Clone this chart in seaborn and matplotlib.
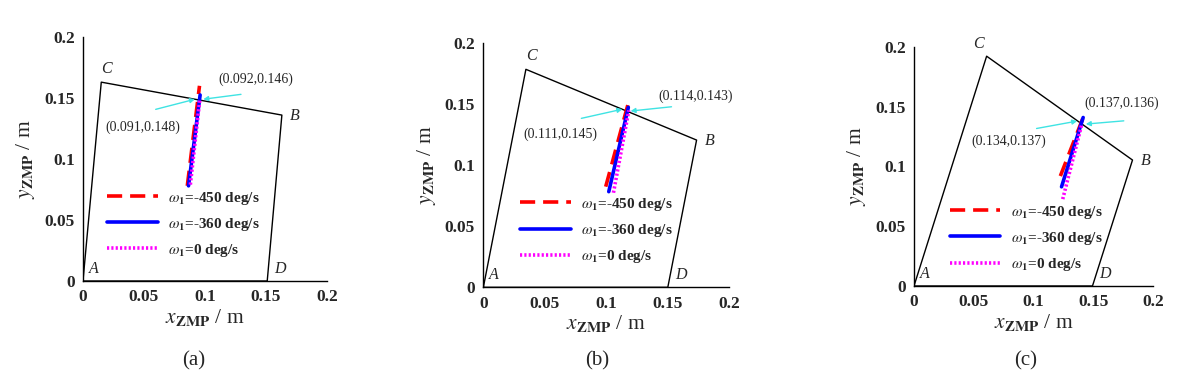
import numpy as np
import pandas as pd
import matplotlib
matplotlib.use('Agg')
import matplotlib.pyplot as plt
import seaborn as sns

sns.set_theme(style='white')
plt.rcParams['font.family'] = ['Liberation Serif', 'DejaVu Serif']
plt.rcParams['mathtext.fontset'] = 'stix'

# Support polygon vertices in order A, C, B, D, A for each case
poly_a_x = [0.0, 0.015, 0.163, 0.151, 0.0]
poly_a_y = [0.0, 0.163, 0.136, 0.0, 0.0]
poly_b_x = [0.0, 0.0346, 0.1734, 0.150, 0.0]
poly_b_y = [0.0, 0.1787, 0.1207, 0.0, 0.0]
poly_c_x = [0.0, 0.0608, 0.1829, 0.1494, 0.0]
poly_c_y = [0.0, 0.1923, 0.1054, 0.0, 0.0]

# ZMP trajectories (start, end) for w1 = -450, -360, 0 deg/s
zmp_a_450_x = [0.0855, 0.0955]
zmp_a_450_y = [0.078, 0.160]
zmp_a_360_x = [0.0865, 0.096]
zmp_a_360_y = [0.078, 0.1525]
zmp_a_0_x = [0.0880, 0.0958]
zmp_a_0_y = [0.079, 0.149]

zmp_b_450_x = [0.0995, 0.1187]
zmp_b_450_y = [0.0825, 0.154]
zmp_b_360_x = [0.102, 0.1179]
zmp_b_360_y = [0.0784, 0.1475]
zmp_b_0_x = [0.1058, 0.1183]
zmp_b_0_y = [0.0775, 0.145]

zmp_c_450_x = [0.1225, 0.1424]
zmp_c_450_y = [0.092, 0.143]
zmp_c_360_x = [0.1235, 0.1416]
zmp_c_360_y = [0.083, 0.141]
zmp_c_0_x = [0.1245, 0.1405]
zmp_c_0_y = [0.0727, 0.1355]

# crossing-point annotations: label, text position, arrow tail, arrow head
note_a_left = ['(0.091,0.148)', (0.049, 0.1257), (0.0596, 0.1407), (0.0918, 0.149)]
note_a_right = ['(0.092,0.146)', (0.111, 0.1656), (0.1295, 0.153), (0.0986, 0.149)]
note_b_left = ['(0.111,0.145)', (0.063, 0.1254), (0.0797, 0.1385), (0.113, 0.146)]
note_b_right = ['(0.114,0.143)', (0.142, 0.157), (0.153, 0.148), (0.1197, 0.1445)]
note_c_left = ['(0.134,0.137)', (0.0789, 0.1207), (0.1026, 0.1318), (0.1366, 0.138)]
note_c_right = ['(0.137,0.136)', (0.143, 0.1527), (0.1756, 0.1382), (0.1438, 0.1355)]

legend_labels = [r'$\omega_\mathbf{1}$=-450 deg/s',
                 r'$\omega_\mathbf{1}$=-360 deg/s',
                 r'$\omega_\mathbf{1}$=0 deg/s']
ticks = [0, 0.05, 0.1, 0.15, 0.2]
tick_labels = ['0', '0.05', '0.1', '0.15', '0.2']
captions = ['(a)', '(b)', '(c)']

panels = [
    dict(poly=(poly_a_x, poly_a_y),
         zmp=[(zmp_a_450_x, zmp_a_450_y), (zmp_a_360_x, zmp_a_360_y), (zmp_a_0_x, zmp_a_0_y)],
         notes=[note_a_left, note_a_right], c_off=(0, 4),
         rect=[0.0699, 0.2795, 0.2056, 0.6256], leg=(0.10, 0.375), cap_pos=(0.163, 0.075)),
    dict(poly=(poly_b_x, poly_b_y),
         zmp=[(zmp_b_450_x, zmp_b_450_y), (zmp_b_360_x, zmp_b_360_y), (zmp_b_0_x, zmp_b_0_y)],
         notes=[note_b_left, note_b_right], c_off=(0, 4),
         rect=[0.4072, 0.2633, 0.2072, 0.6256], leg=(0.15, 0.375), cap_pos=(0.503, 0.075)),
    dict(poly=(poly_c_x, poly_c_y),
         zmp=[(zmp_c_450_x, zmp_c_450_y), (zmp_c_360_x, zmp_c_360_y), (zmp_c_0_x, zmp_c_0_y)],
         notes=[note_c_left, note_c_right], c_off=(-10, 3),
         rect=[0.770, 0.2667, 0.2013, 0.6128], leg=(0.15, 0.345), cap_pos=(0.864, 0.075)),
]

styles = [dict(color='#ff0000', linestyle=(0, (4.2, 2.2))),
          dict(color='#0000ff', linestyle='-'),
          dict(color='#ff00ff', linestyle=(0, (0.6, 0.6)))]
cyan = '#3fe3e3'

fig = plt.figure(figsize=(11.87, 3.9), dpi=100)

for p, caption in zip(panels, captions):
    ax = fig.add_axes(p['rect'])
    px, py = p['poly']
    sns.lineplot(x=px, y=py, ax=ax, sort=False, estimator=None, color='black', lw=1.0)

    handles = []
    for (zx, zy), st in zip(p['zmp'], styles):
        sns.lineplot(x=zx, y=zy, ax=ax, sort=False, estimator=None, lw=2.6, **st)
        handles.append(ax.lines[-1])

    for label, tpos, tail, head in p['notes']:
        ax.annotate('', xy=head, xytext=tail,
                    arrowprops=dict(arrowstyle='-|>', color=cyan, lw=1.0,
                                    mutation_scale=7, shrinkA=0, shrinkB=0))
    left, right = p['notes']
    ax.text(left[1][0], left[1][1], left[0], ha='center', va='center', fontsize=10)
    ax.text(right[1][0], right[1][1], right[0], ha='left', va='center', fontsize=10)

    # vertex names
    names = ['A', 'C', 'B', 'D']
    offsets = [(4, 3), p['c_off'], (6, -1), (5, 3)]
    aligns = [('left', 'bottom'), ('left', 'bottom'), ('left', 'center'), ('left', 'bottom')]
    for name, vx, vy, off, (ha, va) in zip(names, px[:4], py[:4], offsets, aligns):
        ax.annotate(name, xy=(vx, vy), xytext=off, textcoords='offset points',
                    ha=ha, va=va, fontsize=11.5, fontstyle='italic')

    leg = ax.legend(handles, legend_labels, loc='upper left', bbox_to_anchor=p['leg'],
                    frameon=False, borderpad=0, borderaxespad=0, handlelength=3.3,
                    handletextpad=0.7, labelspacing=0.6,
                    prop=dict(size=11, weight='bold'))

    ax.set_xlim(0, 0.2)
    ax.set_ylim(0, 0.2)
    ax.set_xticks(ticks)
    ax.set_yticks(ticks)
    ax.set_xticklabels(tick_labels, fontweight='bold', fontsize=12.5)
    ax.set_yticklabels(tick_labels, fontweight='bold', fontsize=12.5)
    ax.tick_params(direction='in', length=3, width=0.8, color='black', pad=6)
    sns.despine(ax=ax)
    for s in ['left', 'bottom']:
        ax.spines[s].set_color('black')
        ax.spines[s].set_linewidth(1.0)
    ax.set_xlabel(r'$x_{\mathbf{ZMP}}$ / m', fontsize=15.5, labelpad=1)
    ax.set_ylabel(r'$y_{\mathbf{ZMP}}$ / m', fontsize=15.5, labelpad=5)
    ax.patch.set_alpha(0)

    fig.text(p['cap_pos'][0], p['cap_pos'][1], caption, ha='center', va='center', fontsize=15)

fig.savefig('out.png', dpi=100, facecolor='white')
